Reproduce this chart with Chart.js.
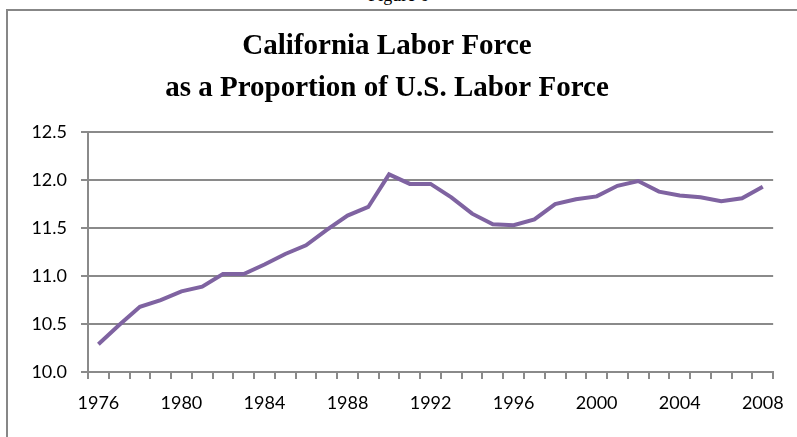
<!DOCTYPE html>
<html>
<head>
<meta charset="utf-8">
<title>California Labor Force as a Proportion of U.S. Labor Force</title>
<script src="https://cdn.jsdelivr.net/npm/chart.js@4.4.1/dist/chart.umd.min.js"></script>
<style>
	html, body { margin: 0; padding: 0; background: #fff; overflow: hidden; }
	body { width: 797px; height: 437px; position: relative; }
	#fig { position: absolute; left: 0; width: 797px; top: -15px; line-height: 20px;
		text-align: center; font: 18px "Liberation Serif", serif; color: #000; }
	#frame { position: absolute; left: 6px; top: 9px; width: 900px; height: 600px;
		border: 2px solid #878787; }
	#wrap { position: absolute; left: 0; top: 0; width: 797px; height: 437px; }
</style>
</head>
<body>
<div id="fig">Figure 6</div>
<div id="frame"></div>
<div id="wrap"><canvas id="chart"></canvas></div>
<script>
"use strict";

// Chart data
var years = [
	1976, 1977, 1978, 1979, 1980, 1981, 1982, 1983, 1984, 1985, 1986,
	1987, 1988, 1989, 1990, 1991, 1992, 1993, 1994, 1995, 1996, 1997,
	1998, 1999, 2000, 2001, 2002, 2003, 2004, 2005, 2006, 2007, 2008
];
var caShare = [
	10.29, 10.49, 10.68, 10.75, 10.84, 10.89, 11.02, 11.02, 11.12, 11.23, 11.32,
	11.48, 11.63, 11.72, 12.06, 11.96, 11.96, 11.82, 11.65, 11.54, 11.53, 11.59,
	11.75, 11.80, 11.83, 11.94, 11.99, 11.88, 11.84, 11.82, 11.78, 11.81, 11.93
];
var yTicks = [ 10.0, 10.5, 11.0, 11.5, 12.0, 12.5 ];
var titleLines = [ "California Labor Force", "as a Proportion of U.S. Labor Force" ];

var gridColor = "#8a8a8a",
	labelFont = { family: "Lato, 'Open Sans', sans-serif", size: 18 };

new Chart( document.getElementById( "chart" ), {
	type: "line",
	data: {
		labels: years,
		datasets: [ {
			label: "California share of U.S. labor force",
			data: caShare,
			borderColor: "#7f63a1",
			borderWidth: 4,
			pointRadius: 0,
			tension: 0,
			fill: false
		} ]
	},
	options: {
		responsive: true,
		maintainAspectRatio: false,
		animation: false,
		events: [],
		layout: { padding: { left: 0, right: 23, top: 0, bottom: 0 } },
		plugins: {
			legend: { display: false },
			tooltip: { enabled: false },
			title: {
				display: true,
				text: titleLines,
				color: "#000",
				font: { family: "'Liberation Serif', serif", size: 29, weight: "bold", lineHeight: 1.45 },
				padding: { top: 25, bottom: 23 }
			}
		},
		scales: {
			x: {
				type: "category",
				offset: true,
				border: { color: gridColor, width: 2 },
				grid: { offset: true, drawOnChartArea: false, drawTicks: true, tickLength: 7, color: gridColor, lineWidth: 2 },
				ticks: {
					autoSkip: false,
					maxRotation: 0,
					padding: 13,
					color: "#000",
					font: labelFont,
					callback: function( value, index ) {
						return index % 4 === 0 ? years[ index ] : "";
					}
				},
				afterFit: function( scale ) {
					scale.height = 65;
				}
			},
			y: {
				min: yTicks[ 0 ],
				max: yTicks[ yTicks.length - 1 ],
				border: { color: gridColor, width: 2 },
				grid: { color: gridColor, lineWidth: 2, tickLength: 7 },
				afterBuildTicks: function( scale ) {
					scale.ticks = yTicks.map( function( v ) { return { value: v }; } );
				},
				ticks: {
					padding: 14,
					color: "#000",
					font: labelFont,
					callback: function( value ) {
						return Number( value ).toFixed( 1 );
					}
				},
				afterFit: function( scale ) {
					scale.width = 88;
				}
			}
		}
	}
} );
</script>
</body>
</html>
